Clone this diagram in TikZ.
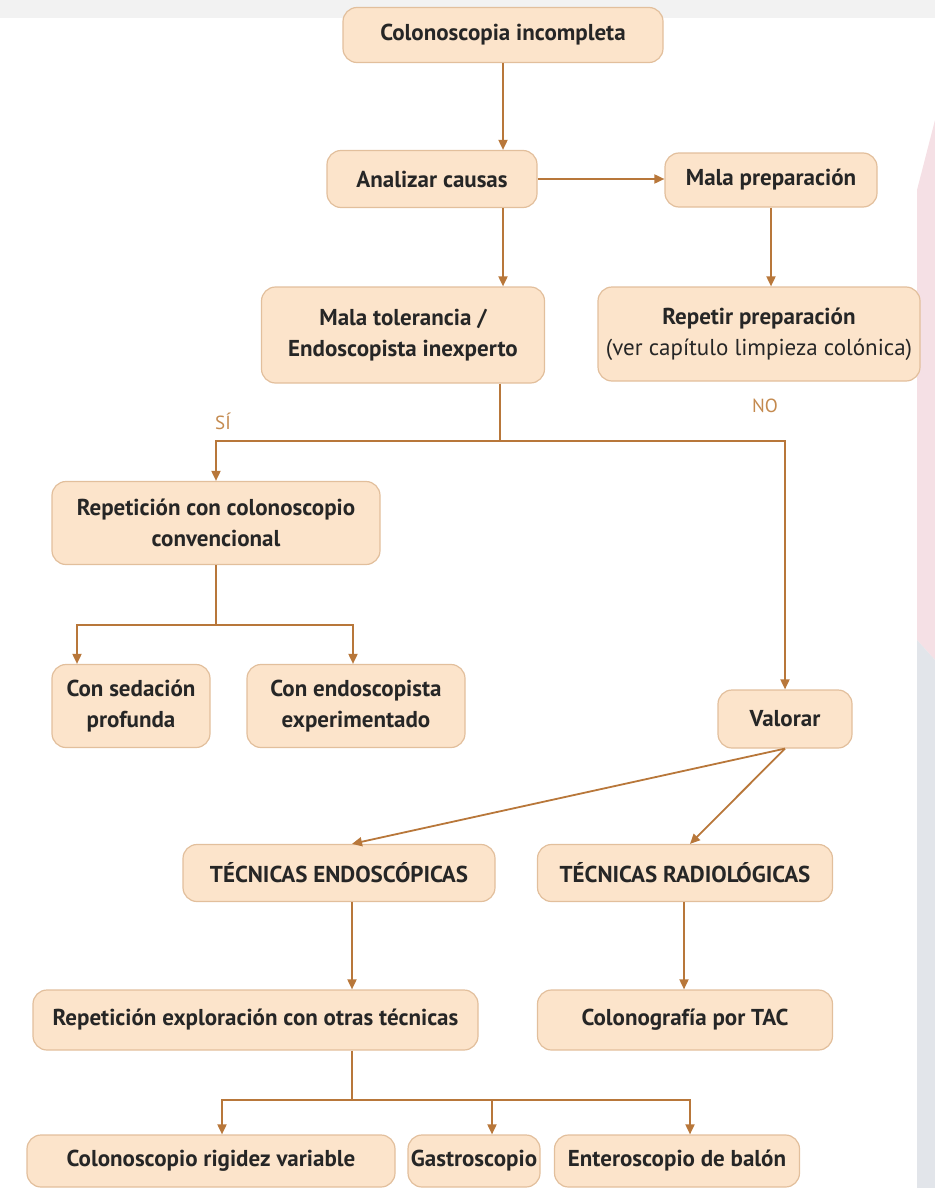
\documentclass[tikz,border=0pt]{standalone}
\usepackage{fontspec}
\setmainfont{PT Sans}
\usetikzlibrary{arrows.meta}
\definecolor{boxfill}{HTML}{FCE4CB}
\definecolor{boxline}{HTML}{E2BF9C}
\definecolor{arrowc}{HTML}{B8773A}
\definecolor{labelc}{HTML}{C48A4F}
\definecolor{stripa}{HTML}{F5E0E5}
\definecolor{stripb}{HTML}{E2E5EA}

\begin{document}
\begin{tikzpicture}[x=0.5pt,y=-0.5pt,
  box/.style={draw=boxline,line width=0.6pt,fill=boxfill,rounded corners=7pt,align=center,inner sep=0pt,text=black!85,font=\fontsize{11.5}{15.5}\selectfont\bfseries},
  link/.style={draw=arrowc,line width=0.9pt},
  tip/.style={link,-{Triangle[length=5pt,width=4.5pt]}},
  ans/.style={text=labelc,font=\fontsize{9.5}{10}\selectfont}]
\useasboundingbox (0,0) rectangle (935,1188);
\fill[black!5] (0,0) rectangle (935,18);
\fill[stripa] (935,120) -- (917,190) -- (917,640) -- (935,660) -- cycle;
\fill[stripb] (935,660) -- (917,640) -- (917,1188) -- (935,1188) -- cycle;

\node[box,minimum width=160pt,minimum height=27.5pt] (inc) at (503,35) {Colonoscopia incompleta};
\node[box,minimum width=105pt,minimum height=28.5pt] (caus) at (432,179) {Analizar causas};
\node[box,minimum width=106pt,minimum height=27pt] (prep) at (771,180) {Mala preparación};
\node[box,minimum width=161pt,minimum height=47pt] (rep) at (759,334) {Repetir preparación\\\mdseries(ver capítulo limpieza colónica)};
\node[box,minimum width=141.5pt,minimum height=48pt] (tol) at (403,335) {Mala tolerancia /\\Endoscopista inexperto};
\node[box,minimum width=164pt,minimum height=41.5pt] (conv) at (216,523) {Repetición con colonoscopio\\convencional};
\node[box,minimum width=79pt,minimum height=41.5pt] (sed) at (131,706) {Con sedación\\profunda};
\node[box,minimum width=109pt,minimum height=41.5pt] (exp) at (356,706) {Con endoscopista\\experimentado};
\node[box,minimum width=67pt,minimum height=29pt] (val) at (785,719) {Valorar};
\node[box,minimum width=156pt,minimum height=28.5pt] (endo) at (339,873) {TÉCNICAS ENDOSCÓPICAS};
\node[box,minimum width=147.5pt,minimum height=28.5pt] (radio) at (685,873) {TÉCNICAS RADIOLÓGICAS};
\node[box,minimum width=222.5pt,minimum height=30pt] (expl) at (255.5,1020) {Repetición exploración con otras técnicas};
\node[box,minimum width=147.5pt,minimum height=30pt] (tac) at (685,1020) {Colonografía por TAC};
\node[box,minimum width=184pt,minimum height=26pt] (rig) at (211,1161) {Colonoscopio rigidez variable};
\node[box,minimum width=66pt,minimum height=26pt] (gas) at (474,1161) {Gastroscopio};
\node[box,minimum width=122.5pt,minimum height=26pt] (ent) at (677,1161) {Enteroscopio de balón};

\draw[tip] (inc.south) -- (inc.south |- caus.north);
\draw[tip] (caus.east) -- (caus.east -| prep.west);
\draw[tip] (prep.south) -- (prep.south |- rep.north);
\draw[tip] (inc.south |- caus.south) -- (inc.south |- tol.north);

\coordinate (split) at (500,441);
\draw[link] (tol.south -| split) -- (split);
\draw[tip] (split) -| (conv.north);
\draw[tip] (split) -| (val.north);
\node[ans] (si) at (223,421) {SÍ};
\node[ans] (no) at (765,406) {NO};

\coordinate (forka) at (216,625);
\draw[link] (conv.south) -- (forka);
\draw[tip] (forka) -| ([xshift=-27pt]sed.north);
\draw[tip] (forka) -| ([xshift=-1.5pt]exp.north);

\draw[tip] (val.south) -- ([xshift=6.5pt]endo.north);
\draw[tip] (val.south) -- ([xshift=2.5pt]radio.north);
\draw[tip] ([xshift=6.5pt]endo.south) -- ([xshift=6.5pt]endo.south |- expl.north);
\draw[tip] ([xshift=-0.5pt]radio.south) -- ([xshift=-0.5pt]radio.south |- tac.north);

\coordinate (forkb) at (352,1100);
\draw[link] (expl.south -| forkb) -- (forkb);
\foreach \n/\s in {rig/5.5pt,gas/9pt,ent/6.5pt}
  \draw[tip] (forkb) -| ([xshift=\s]\n.north);
\end{tikzpicture}
\end{document}
